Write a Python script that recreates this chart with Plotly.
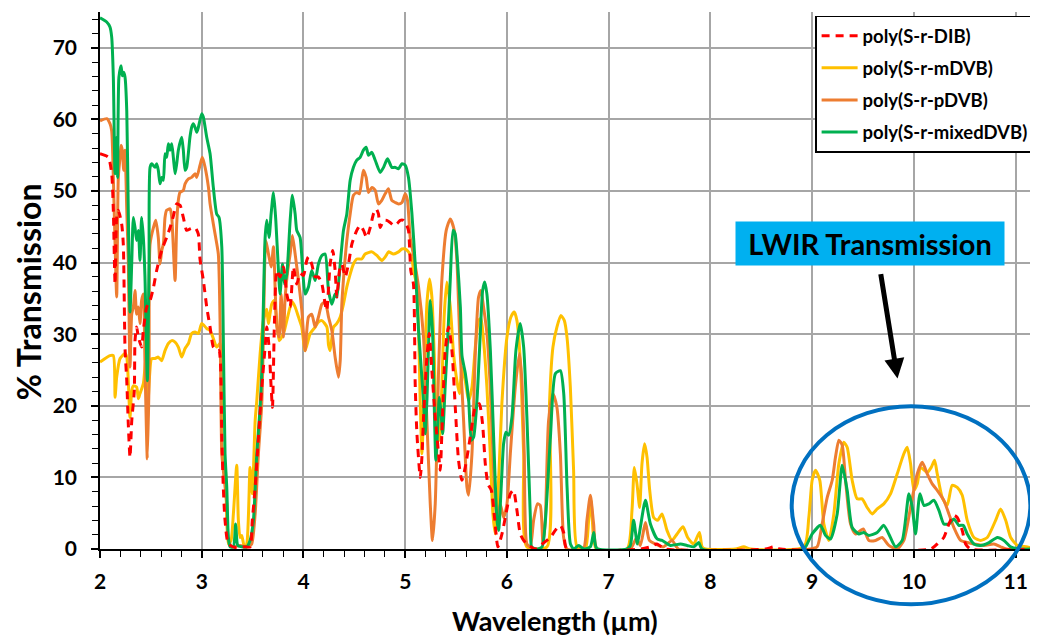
import plotly.graph_objects as go

# ---- data (wavelength in µm, % transmission) ----
dib_wl = [2.000, 2.082, 2.115, 2.131, 2.148, 2.164, 2.180, 2.213, 2.229, 2.246, 2.263, 2.278, 2.295, 2.312, 2.337,
          2.344, 2.360, 2.377, 2.409, 2.426, 2.459, 2.492, 2.525, 2.557, 2.606, 2.655, 2.689, 2.721, 2.754, 2.787,
          2.819, 2.852, 2.885, 2.934, 2.966, 2.983, 3.016, 3.049, 3.082, 3.114, 3.147, 3.170, 3.197, 3.212, 3.229,
          3.262, 3.328, 3.426, 3.475, 3.497, 3.525, 3.557, 3.590, 3.623, 3.639, 3.662, 3.682, 3.695, 3.715, 3.738,
          3.770, 3.803, 3.836, 3.869, 3.901, 3.934, 3.967, 3.999, 4.032, 4.048, 4.081, 4.115, 4.147, 4.181, 4.213,
          4.229, 4.262, 4.288, 4.311, 4.328, 4.354, 4.377, 4.410, 4.442, 4.476, 4.524, 4.557, 4.590, 4.622, 4.656,
          4.688, 4.715, 4.737, 4.754, 4.787, 4.819, 4.852, 4.885, 4.917, 4.951, 4.983, 5.009, 5.032, 5.055, 5.081,
          5.098, 5.115, 5.148, 5.164, 5.180, 5.213, 5.236, 5.262, 5.295, 5.328, 5.344, 5.361, 5.393, 5.426, 5.459,
          5.492, 5.524, 5.557, 5.590, 5.639, 5.689, 5.728, 5.760, 5.787, 5.813, 5.846, 5.878, 5.911, 5.951, 5.984,
          6.033, 6.064, 6.098, 6.131, 6.164, 6.196, 6.279, 6.328, 6.426, 6.475, 6.525, 6.557, 6.590, 7.311, 7.410,
          7.475, 7.557, 8.541, 8.623, 8.688, 10.164, 10.229, 10.294, 10.344, 10.393, 10.426, 10.475, 10.508, 10.557,
          11.206]
dib_t = [55.2, 54.7, 52.4, 47.3, 37.0, 46.3, 47.3, 45.4, 42.6, 28.0, 23.5, 17.5, 12.8, 17.9, 22.1,
         29.1, 31.0, 29.6, 28.2, 30.5, 33.8, 34.7, 36.5, 38.9, 41.7, 43.5, 44.9, 46.5, 48.2, 48.0,
         46.3, 44.5, 44.7, 44.9, 44.0, 40.5, 37.5, 33.8, 31.0, 28.2, 27.7, 27.7, 15.6, 8.6, 4.0,
         0.7, 0.2, 0.3, 0.3, 4.0, 8.6, 15.6, 22.6, 28.2, 31.0, 28.2, 22.6, 19.8, 31.9, 38.9,
         38.0, 39.4, 35.6, 33.8, 39.4, 37.0, 38.5, 38.2, 40.3, 40.8, 39.8, 38.0, 38.0, 37.0, 34.2,
         33.3, 39.8, 41.7, 38.9, 35.2, 38.9, 39.8, 38.0, 39.8, 42.6, 44.5, 45.2, 44.5, 43.5, 44.9,
         46.8, 47.5, 46.8, 44.9, 45.9, 45.9, 45.6, 45.2, 45.4, 45.9, 45.9, 45.4, 44.5, 38.9, 37.0,
         23.1, 16.1, 10.0, 12.8, 18.4, 26.8, 30.1, 24.9, 18.4, 13.3, 11.0, 16.5, 27.7, 31.0, 27.7,
         19.8, 12.4, 9.6, 11.4, 15.6, 19.8, 20.3, 17.5, 11.9, 9.1, 8.2, 4.4, 0.3, 2.1, 4.4,
         7.7, 8.2, 5.4, 2.1, 1.2, 0.7, 0.0, 0.5, 1.6, 2.6, 3.3, 2.3, 0.0, 0.0, 0.3,
         0.7, 0.0, 0.0, 0.3, 0.0, 0.0, 0.7, 1.6, 3.5, 4.7, 4.4, 2.6, 0.7, 0.0,
         0.0]

mdvb_wl = [2.000, 2.098, 2.131, 2.148, 2.164, 2.197, 2.246, 2.263, 2.278, 2.295, 2.312, 2.328, 2.360, 2.377, 2.393,
           2.426, 2.449, 2.465, 2.484, 2.508, 2.541, 2.573, 2.606, 2.639, 2.672, 2.705, 2.738, 2.770, 2.803, 2.836,
           2.869, 2.901, 2.934, 2.967, 3.000, 3.049, 3.082, 3.114, 3.147, 3.180, 3.202, 3.229, 3.246, 3.262, 3.288,
           3.311, 3.344, 3.360, 3.377, 3.393, 3.419, 3.442, 3.475, 3.497, 3.525, 3.541, 3.574, 3.606, 3.639, 3.655,
           3.688, 3.713, 3.737, 3.761, 3.786, 3.812, 3.836, 3.869, 3.891, 3.918, 3.951, 3.983, 4.016, 4.066, 4.115,
           4.147, 4.181, 4.230, 4.246, 4.262, 4.295, 4.328, 4.361, 4.393, 4.426, 4.459, 4.491, 4.524, 4.573, 4.606,
           4.672, 4.721, 4.770, 4.813, 4.835, 4.884, 4.934, 4.968, 5.000, 5.032, 5.066, 5.082, 5.115, 5.148, 5.164,
           5.187, 5.213, 5.239, 5.262, 5.285, 5.311, 5.336, 5.360, 5.384, 5.409, 5.443, 5.475, 5.508, 5.533, 5.558,
           5.590, 5.623, 5.656, 5.689, 5.721, 5.744, 5.770, 5.803, 5.836, 5.862, 5.885, 5.908, 5.950, 6.000, 6.039,
           6.072, 6.098, 6.131, 6.164, 6.196, 6.393, 6.418, 6.452, 6.491, 6.530, 6.564, 6.590, 6.623, 6.655, 6.689,
           6.770, 6.803, 6.826, 6.851, 6.879, 7.180, 7.229, 7.252, 7.278, 7.304, 7.327, 7.353, 7.377, 7.403, 7.442,
           7.481, 7.524, 7.573, 7.622, 7.672, 7.730, 7.776, 7.835, 7.892, 7.918, 7.951, 8.246, 8.328, 8.394, 8.918,
           8.967, 9.000, 9.033, 9.075, 9.115, 9.164, 9.213, 9.262, 9.311, 9.344, 9.393, 9.442, 9.491, 9.540, 9.590,
           9.639, 9.704, 9.770, 9.836, 9.901, 9.934, 9.967, 10.000, 10.033, 10.066, 10.131, 10.170, 10.203, 10.229,
           10.278, 10.327, 10.376, 10.426, 10.475, 10.524, 10.590, 10.656, 10.721, 10.803, 10.852, 10.902, 10.951,
           11.017, 11.115, 11.206]
mdvb_t = [26.1, 27.0, 27.0, 21.2, 24.0, 26.6, 27.3, 26.8, 23.5, 18.4, 22.1, 22.8, 22.6, 21.0, 21.7,
          23.1, 26.3, 17.9, 23.5, 26.6, 26.6, 26.8, 26.3, 27.7, 28.7, 29.1, 28.9, 28.2, 26.8, 28.0,
          28.7, 30.1, 30.3, 30.1, 31.5, 30.8, 30.5, 29.4, 28.2, 28.7, 13.3, 11.9, 4.0, 0.7, 1.2,
          4.9, 11.7, 4.0, 1.6, 1.9, 0.3, 0.7, 11.4, 7.7, 17.9, 20.7, 27.3, 31.9, 33.5, 31.5,
          34.2, 34.7, 31.9, 29.1, 29.6, 30.5, 31.9, 33.8, 34.5, 33.8, 32.4, 31.0, 27.7, 30.1, 31.0,
          31.7, 31.9, 31.0, 28.5, 27.7, 31.0, 31.5, 32.4, 34.2, 36.6, 38.4, 39.8, 40.5, 40.5, 41.2,
          41.5, 41.0, 40.3, 41.0, 41.5, 41.2, 41.5, 41.9, 41.9, 41.5, 40.5, 38.9, 36.6, 20.3, 13.3,
          22.6, 34.2, 37.7, 35.2, 27.3, 16.5, 15.2, 22.6, 32.8, 37.3, 33.8, 27.3, 23.5, 21.7, 25.4,
          23.5, 20.7, 22.6, 28.2, 31.9, 32.2, 29.1, 22.6, 13.3, 4.9, 2.1, 6.3, 20.3, 29.6, 32.4,
          33.1, 31.9, 26.3, 13.3, 0.3, 0.3, 20.3, 28.2, 31.0, 32.6, 31.9, 29.6, 22.6, 11.0, 0.3,
          0.0, 4.0, 6.8, 1.6, 0.0, 0.0, 5.4, 11.4, 9.1, 5.8, 11.9, 14.7, 12.8, 8.2, 4.4,
          4.0, 4.9, 2.6, 1.2, 2.1, 3.1, 1.6, 0.7, 2.3, 0.3, 0.0, 0.0, 0.3, 0.0, 0.3,
          4.4, 9.6, 11.0, 9.6, 3.5, 1.2, 4.9, 11.9, 14.9, 14.2, 9.6, 7.0, 7.0, 5.8, 4.9,
          5.6, 6.3, 7.7, 10.5, 13.3, 14.2, 11.9, 8.2, 9.1, 11.4, 10.7, 11.4, 12.4, 10.5,
          7.2, 6.1, 8.9, 8.6, 7.5, 4.0, 1.6, 1.2, 1.6, 4.0, 5.6, 4.0, 1.6,
          0.5, 0.3, 0.0]

pdvb_wl = [2.000, 2.066, 2.098, 2.115, 2.131, 2.148, 2.164, 2.180, 2.197, 2.207, 2.219, 2.233, 2.246, 2.263, 2.278,
           2.295, 2.312, 2.328, 2.344, 2.360, 2.377, 2.393, 2.409, 2.426, 2.442, 2.465, 2.482, 2.492, 2.525, 2.548,
           2.573, 2.590, 2.607, 2.623, 2.639, 2.655, 2.689, 2.705, 2.738, 2.754, 2.770, 2.786, 2.819, 2.836, 2.869,
           2.901, 2.934, 2.951, 2.983, 3.006, 3.033, 3.066, 3.082, 3.114, 3.137, 3.163, 3.180, 3.197, 3.212, 3.246,
           3.262, 3.298, 3.377, 3.456, 3.491, 3.525, 3.557, 3.590, 3.606, 3.630, 3.656, 3.682, 3.705, 3.721, 3.738,
           3.761, 3.780, 3.803, 3.820, 3.845, 3.869, 3.891, 3.918, 3.951, 3.984, 4.016, 4.049, 4.081, 4.115, 4.147,
           4.181, 4.213, 4.246, 4.279, 4.311, 4.344, 4.361, 4.377, 4.400, 4.426, 4.459, 4.491, 4.524, 4.550, 4.589,
           4.616, 4.639, 4.672, 4.705, 4.737, 4.770, 4.803, 4.835, 4.868, 4.902, 4.934, 4.968, 5.000, 5.022, 5.049,
           5.082, 5.131, 5.180, 5.213, 5.246, 5.268, 5.295, 5.328, 5.360, 5.403, 5.443, 5.482, 5.508, 5.541, 5.574,
           5.607, 5.623, 5.656, 5.689, 5.721, 5.744, 5.770, 5.803, 5.836, 5.869, 5.902, 5.934, 5.967, 6.000, 6.033,
           6.082, 6.123, 6.147, 6.170, 6.196, 6.229, 6.262, 6.300, 6.327, 6.354, 6.377, 6.409, 6.452, 6.491, 6.525,
           6.557, 6.590, 6.750, 6.786, 6.820, 6.852, 6.885, 7.213, 7.272, 7.311, 7.361, 7.400, 7.459, 7.538, 7.623,
           7.685, 8.983, 9.049, 9.098, 9.148, 9.197, 9.229, 9.262, 9.295, 9.328, 9.377, 9.426, 9.502, 9.557, 9.623,
           9.688, 9.753, 9.836, 9.901, 9.967, 10.033, 10.082, 10.131, 10.180, 10.229, 10.294, 10.344, 10.393, 10.459,
           10.525, 10.590, 10.688, 10.786, 10.852, 10.911, 11.206]
pdvb_t = [59.8, 60.1, 59.4, 58.4, 51.9, 42.6, 35.2, 51.9, 54.7, 56.4, 55.7, 52.9, 55.7, 47.3, 40.3,
          25.4, 32.8, 33.8, 36.1, 32.8, 33.8, 31.5, 34.7, 35.6, 25.9, 12.6, 23.5, 42.6, 44.9, 45.9,
          43.5, 39.8, 41.7, 42.6, 46.3, 47.3, 47.5, 46.3, 37.5, 45.4, 48.7, 49.8, 50.1, 51.0, 51.7,
          51.9, 52.4, 51.9, 53.6, 54.7, 53.3, 50.5, 48.2, 45.4, 43.5, 41.2, 31.9, 13.3, 11.0, 6.3,
          1.2, 0.3, 0.5, 0.3, 0.7, 4.9, 13.3, 20.3, 29.6, 43.1, 41.2, 39.4, 42.2, 36.6, 31.0,
          29.6, 35.6, 29.6, 35.2, 38.9, 41.2, 43.8, 41.2, 37.5, 33.3, 27.7, 32.4, 32.8, 31.0, 32.4,
          34.2, 34.5, 32.4, 30.5, 26.8, 24.0, 26.3, 34.2, 38.9, 43.1, 46.8, 49.4, 49.8, 49.6, 52.9,
          51.9, 49.8, 50.5, 50.1, 48.2, 48.7, 49.6, 50.3, 48.7, 48.4, 48.2, 48.4, 49.6, 48.7, 43.5,
          41.0, 36.6, 29.6, 17.9, 6.3, 1.2, 6.3, 24.9, 37.5, 44.5, 46.1, 44.5, 40.3, 27.3, 17.9,
          8.6, 7.5, 13.3, 27.3, 35.2, 36.1, 33.8, 30.1, 22.6, 11.0, 4.0, 6.3, 4.4, 6.3, 13.3,
          22.6, 27.3, 23.5, 13.3, 0.7, 0.3, 4.0, 6.3, 6.1, 0.7, 4.0, 17.9, 21.7, 19.8, 13.3,
          1.6, 0.0, 0.0, 4.0, 7.5, 3.5, 0.0, 0.0, 1.5, 0.5, 3.7, 1.2, 0.7, 0.3, 1.2,
          0.0, 0.0, 0.3, 3.5, 7.2, 9.6, 12.8, 15.2, 14.5, 9.6, 3.5, 2.1, 2.8, 1.2, 1.2,
          1.6, 0.5, 0.0, 1.2, 5.8, 10.5, 12.1, 10.5, 9.1, 8.2, 6.8, 4.9, 3.0, 1.2,
          0.9, 0.7, 0.5, 0.7, 0.3, 0.0, 0.0]

mixed_wl = [2.000, 2.066, 2.098, 2.115, 2.131, 2.148, 2.164, 2.173, 2.186, 2.207, 2.219, 2.233, 2.246, 2.263, 2.278,
            2.295, 2.312, 2.328, 2.344, 2.360, 2.377, 2.393, 2.409, 2.426, 2.442, 2.465, 2.482, 2.492, 2.509, 2.541,
            2.557, 2.573, 2.590, 2.607, 2.623, 2.639, 2.655, 2.672, 2.689, 2.705, 2.721, 2.738, 2.754, 2.770, 2.803,
            2.819, 2.836, 2.852, 2.884, 2.901, 2.917, 2.934, 2.951, 2.967, 3.000, 3.016, 3.049, 3.082, 3.114, 3.147,
            3.170, 3.197, 3.212, 3.229, 3.246, 3.262, 3.279, 3.311, 3.334, 3.354, 3.393, 3.442, 3.475, 3.508, 3.541,
            3.574, 3.590, 3.606, 3.623, 3.639, 3.662, 3.682, 3.705, 3.728, 3.754, 3.770, 3.793, 3.813, 3.836, 3.869,
            3.891, 3.918, 3.934, 3.967, 3.990, 4.016, 4.049, 4.081, 4.115, 4.147, 4.181, 4.213, 4.246, 4.279, 4.311,
            4.328, 4.361, 4.393, 4.426, 4.459, 4.491, 4.524, 4.557, 4.589, 4.616, 4.639, 4.672, 4.705, 4.754, 4.787,
            4.826, 4.868, 4.902, 4.934, 4.968, 5.000, 5.032, 5.066, 5.098, 5.131, 5.180, 5.196, 5.213, 5.246, 5.269,
            5.288, 5.301, 5.321, 5.335, 5.351, 5.368, 5.394, 5.420, 5.444, 5.470, 5.491, 5.509, 5.542, 5.558, 5.591,
            5.624, 5.650, 5.672, 5.705, 5.738, 5.761, 5.781, 5.803, 5.837, 5.869, 5.902, 5.918, 5.945, 5.967, 5.990,
            6.016, 6.049, 6.088, 6.130, 6.164, 6.196, 6.230, 6.243, 6.295, 6.345, 6.378, 6.427, 6.476, 6.525, 6.558,
            6.591, 6.624, 6.656, 6.705, 6.754, 6.820, 6.853, 6.882, 7.180, 7.213, 7.245, 7.282, 7.311, 7.361, 7.410,
            7.476, 7.524, 7.606, 7.705, 7.770, 7.836, 7.885, 7.918, 8.918, 8.967, 9.000, 9.082, 9.131, 9.180, 9.246,
            9.295, 9.344, 9.393, 9.459, 9.507, 9.557, 9.639, 9.704, 9.753, 9.820, 9.885, 9.951, 9.984, 10.016, 10.059,
            10.098, 10.147, 10.196, 10.246, 10.294, 10.344, 10.393, 10.442, 10.485, 10.524, 10.590, 10.656, 10.738,
            10.820, 10.885, 10.951, 11.049, 11.206]
mixed_t = [74.2, 73.6, 72.9, 71.5, 65.9, 52.4, 57.5, 51.9, 65.9, 67.5, 66.1, 66.6, 65.9, 61.2, 47.3,
           33.1, 40.0, 46.3, 44.9, 43.1, 44.5, 40.3, 46.3, 43.5, 38.0, 23.5, 40.0, 53.3, 53.8, 53.3,
           53.8, 52.9, 51.0, 51.9, 51.5, 55.2, 54.7, 56.6, 55.7, 56.6, 54.7, 52.4, 53.8, 55.7, 57.5,
           55.7, 52.9, 53.3, 57.5, 58.9, 59.4, 58.9, 58.2, 58.9, 60.8, 60.3, 57.5, 55.2, 50.5, 46.8,
           46.3, 42.2, 29.6, 13.3, 8.6, 1.6, 0.3, 0.3, 3.5, 0.5, 0.3, 0.3, 1.2, 4.0, 13.3,
           19.8, 24.9, 34.2, 43.5, 45.9, 43.5, 46.8, 49.8, 45.9, 38.9, 35.6, 39.8, 37.0, 38.4, 45.9,
           49.4, 46.8, 44.5, 43.5, 39.4, 35.6, 36.6, 38.9, 37.5, 39.8, 41.0, 41.2, 36.1, 34.2, 35.6,
           35.2, 39.8, 44.5, 46.8, 51.5, 53.3, 54.3, 54.7, 55.7, 56.1, 55.0, 55.4, 54.3, 52.6, 53.3,
           54.5, 53.3, 53.3, 53.1, 53.8, 53.6, 51.9, 46.8, 39.8, 30.5, 20.7, 16.1, 20.7, 34.7, 30.1,
           18.4, 12.4, 17.5, 21.2, 19.3, 16.1, 23.1, 30.1, 38.0, 44.5, 44.0, 41.2, 33.8, 27.0, 24.5,
           20.7, 15.2, 15.6, 20.7, 30.1, 36.1, 37.3, 35.6, 27.7, 15.6, 4.0, 2.6, 9.1, 14.7, 16.3,
           15.9, 18.4, 27.7, 31.5, 28.2, 18.4, 4.4, 0.3, 0.0, 0.3, 4.0, 15.6, 24.5, 24.9, 21.7,
           8.6, 0.7, 0.0, 0.5, 0.0, 0.3, 2.3, 0.1, 0.0, 0.5, 4.0, 0.7, 3.0, 6.8, 3.5,
           1.4, 1.2, 0.5, 0.7, 0.5, 0.3, 0.9, 0.0, 0.0, 1.2, 2.1, 3.3, 1.9, 1.4, 4.9,
           11.7, 8.2, 3.0, 2.1, 2.3, 1.9, 2.3, 3.3, 2.1, 0.3, 1.2, 7.7, 5.8, 2.1, 7.7,
           6.1, 6.3, 6.8, 5.4, 3.5, 3.5, 4.2, 3.3, 3.3, 2.1, 0.7, 0.5, 0.9,
           1.6, 1.2, 0.3, 0.0, 0.0]

series_names = ["poly(S-r-DIB)", "poly(S-r-mDVB)", "poly(S-r-pDVB)", "poly(S-r-mixedDVB)"]
series_colors = ["#FF0000", "#FFC000", "#ED7D31", "#00B050"]

x_ticks = [2, 3, 4, 5, 6, 7, 8, 9, 10, 11]
y_ticks = [0, 10, 20, 30, 40, 50, 60, 70]

FONT = "Lato"

fig = go.Figure()
# draw order: mDVB, pDVB, mixedDVB, DIB (dashed on top); legend order via legendrank
order = [1, 2, 3, 0]
data = {0: (dib_wl, dib_t), 1: (mdvb_wl, mdvb_t), 2: (pdvb_wl, pdvb_t), 3: (mixed_wl, mixed_t)}
for i in order:
    wl, t = data[i]
    fig.add_trace(go.Scatter(
        x=wl, y=t, mode="lines", name=series_names[i], legendrank=i + 1,
        legendgroup="g%d" % i,
        line=dict(color=series_colors[i], width=3, shape="spline", smoothing=0.6,
                  dash="8px,6px" if i == 0 else "solid"),
    ))

# The page body adds an 8px offset; the figure is sized to sit inside the 1038x637 window.
fig.update_layout(
    width=1030, height=629,
    margin=dict(l=92, r=2, t=4, b=88, autoexpand=False),
    paper_bgcolor="white", plot_bgcolor="white",
    font=dict(family=FONT, color="black", size=18, weight="bold"),
    showlegend=True,
    legend=dict(x=0.764, y=0.993, xanchor="left", yanchor="top",
                bgcolor="white", bordercolor="black", borderwidth=1.5,
                font=dict(family=FONT, size=18.5, color="black", weight="bold"),
                itemwidth=36, tracegroupgap=5),
)

fig.update_xaxes(
    range=[2, 11.2], tickvals=x_ticks, showgrid=True, gridcolor="#A6A6A6", gridwidth=1.5,
    showline=True, linecolor="black", linewidth=1.5,
    ticks="outside", ticklen=7, tickcolor="black", tickwidth=1.5, ticklabelstandoff=6,
    minor=dict(dtick=0.2, ticks="outside", ticklen=6, tickcolor="black", tickwidth=1.2, showgrid=False),
    tickfont=dict(family=FONT, size=21, weight="bold"),
    zeroline=False, automargin=False,
)
fig.update_yaxes(
    range=[0, 75], tickvals=y_ticks, showgrid=True, gridcolor="#A6A6A6", gridwidth=1.5,
    showline=True, linecolor="black", linewidth=1.5,
    ticks="outside", ticklen=7, tickcolor="black", tickwidth=1.5, ticklabelstandoff=10,
    minor=dict(dtick=2, ticks="outside", ticklen=6, tickcolor="black", tickwidth=1.2, showgrid=False),
    tickfont=dict(family=FONT, size=21, weight="bold"),
    zeroline=False, automargin=False,
)

# axis titles (placed as annotations to match the reference offsets)
fig.add_annotation(
    x=0.4856, y=-0.1325, xref="paper", yref="paper", text="Wavelength (µm)", showarrow=False,
    xanchor="center", yanchor="middle",
    font=dict(family=FONT, size=27, color="black", weight="bold"),
)
fig.add_annotation(
    x=-0.0765, y=0.479, xref="paper", yref="paper", text="% Transmission", showarrow=False,
    xanchor="center", yanchor="middle", textangle=-90,
    font=dict(family=FONT, size=32, color="black", weight="bold"),
)

# LWIR label box
fig.add_annotation(
    x=9.564, y=42.6, xref="x", yref="y", text="LWIR Transmission", showarrow=False,
    bgcolor="#00B0F0", width=268, height=43, borderpad=0,
    font=dict(family=FONT, size=29, color="black", weight="bold"),
)
# arrow
fig.add_annotation(
    x=9.839, y=23.8, xref="x", yref="y", ax=-17, ay=-106, text="",
    showarrow=True, arrowhead=2, arrowsize=0.8, arrowwidth=5, arrowcolor="black",
)
# ellipse around LWIR region
fig.add_shape(
    type="circle", xref="paper", yref="paper",
    x0=0.739, x1=0.994, y0=-0.103, y1=0.266,
    line=dict(color="#0070C0", width=4), fillcolor="rgba(0,0,0,0)", layer="above",
)

fig.write_html("out.html")
